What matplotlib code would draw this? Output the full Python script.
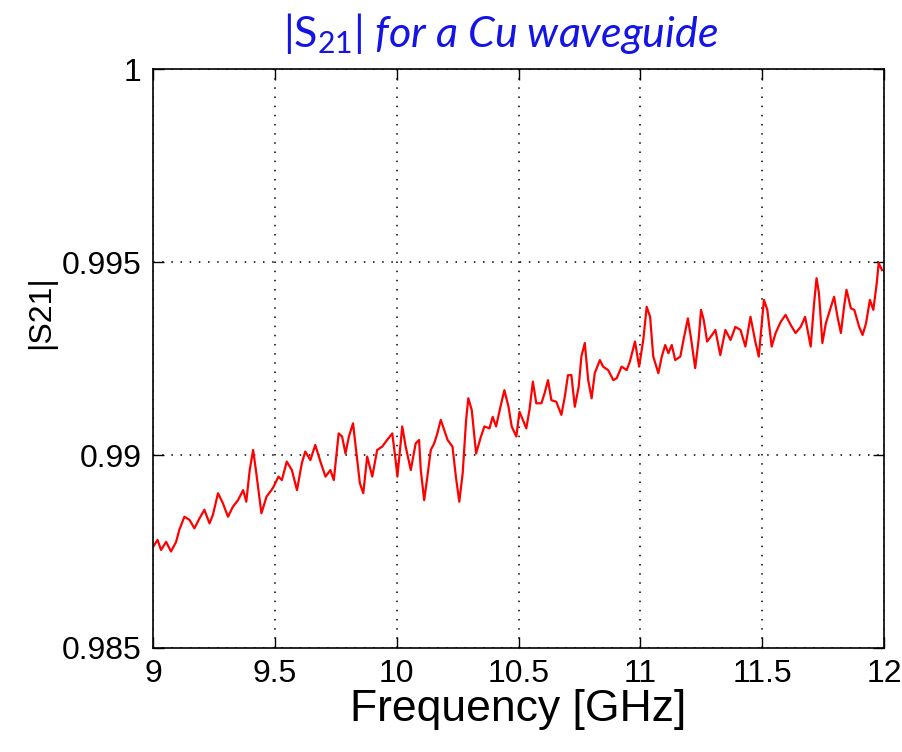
import matplotlib
matplotlib.use("Agg")
import matplotlib.pyplot as plt


# ============================================
# Data
# ============================================

freq_ghz = [
    9.000, 9.019, 9.033, 9.054, 9.074, 9.095, 9.108, 9.129, 9.150, 9.170,
    9.191, 9.211, 9.232, 9.246, 9.267, 9.287, 9.308, 9.328, 9.349, 9.370,
    9.383, 9.397, 9.411, 9.424, 9.445, 9.466, 9.486,
    9.495, 9.515, 9.529, 9.549, 9.570, 9.591, 9.611, 9.625, 9.646, 9.666,
    9.687, 9.708, 9.728, 9.742, 9.762, 9.776, 9.790, 9.804, 9.821, 9.835,
    9.849, 9.863, 9.879, 9.900, 9.920, 9.941, 9.961, 9.982, 9.996,
    10.003, 10.023, 10.037, 10.058, 10.078, 10.092, 10.099, 10.113, 10.126,
    10.140, 10.154, 10.167, 10.181, 10.195, 10.209, 10.229, 10.243, 10.257,
    10.271, 10.285, 10.294, 10.308, 10.326, 10.346, 10.360, 10.381, 10.394,
    10.408, 10.426, 10.442, 10.459, 10.472, 10.491,
    10.504, 10.518, 10.532, 10.545, 10.559, 10.573, 10.594, 10.607, 10.621,
    10.635, 10.655, 10.676, 10.690, 10.703, 10.717, 10.731, 10.747, 10.758,
    10.772, 10.786, 10.800, 10.813, 10.834, 10.847, 10.868, 10.889, 10.903,
    10.923, 10.944, 10.957, 10.978, 10.995,
    11.012, 11.026, 11.040, 11.053, 11.074, 11.088, 11.102, 11.115, 11.129,
    11.143, 11.164, 11.177, 11.195, 11.209, 11.225, 11.239, 11.249, 11.260,
    11.274, 11.294, 11.308, 11.328, 11.349, 11.370, 11.390, 11.411, 11.431,
    11.452, 11.473,
    11.486, 11.507, 11.521, 11.539, 11.555, 11.576, 11.596, 11.617, 11.637,
    11.658, 11.676, 11.686, 11.699, 11.713, 11.723, 11.733, 11.747, 11.761,
    11.782, 11.795, 11.809, 11.823, 11.836, 11.846, 11.864, 11.878, 11.898,
    11.912, 11.926, 11.942, 11.956, 11.970, 11.978, 11.992,
]

s21_mag = [
    0.98762, 0.98780, 0.98754, 0.98775, 0.98750, 0.98775, 0.98806, 0.98840, 0.98832, 0.98810,
    0.98836, 0.98858, 0.98823, 0.98845, 0.98901, 0.98875, 0.98840, 0.98866, 0.98883, 0.98909,
    0.98879, 0.98961, 0.99013, 0.98953, 0.98849, 0.98892, 0.98909,
    0.98918, 0.98944, 0.98935, 0.98983, 0.98961, 0.98909, 0.98979, 0.99009, 0.98987, 0.99026,
    0.98983, 0.98944, 0.98961, 0.98935, 0.99056, 0.99048, 0.99004, 0.99048, 0.99082, 0.99004,
    0.98927, 0.98901, 0.98996, 0.98944, 0.99013, 0.99022, 0.99039, 0.99056, 0.98985,
    0.98944, 0.99074, 0.99022, 0.98961, 0.99030, 0.99039, 0.98961, 0.98883, 0.98944,
    0.99013, 0.99030, 0.99056, 0.99091, 0.99065, 0.99039, 0.99022, 0.98944, 0.98879,
    0.98953, 0.99091, 0.99147, 0.99117, 0.99004, 0.99048, 0.99074, 0.99069, 0.99099,
    0.99074, 0.99125, 0.99168, 0.99125, 0.99074, 0.99048,
    0.99112, 0.99091, 0.99069, 0.99117, 0.99190, 0.99134, 0.99134, 0.99160, 0.99194,
    0.99142, 0.99138, 0.99104, 0.99151, 0.99207, 0.99207, 0.99125, 0.99177, 0.99255,
    0.99290, 0.99194, 0.99147, 0.99212, 0.99246, 0.99229, 0.99220, 0.99194, 0.99199,
    0.99229, 0.99220, 0.99242, 0.99294, 0.99229,
    0.99298, 0.99384, 0.99358, 0.99255, 0.99212, 0.99255, 0.99285, 0.99264, 0.99285,
    0.99246, 0.99255, 0.99298, 0.99354, 0.99298, 0.99225, 0.99298, 0.99376, 0.99350,
    0.99294, 0.99311, 0.99324, 0.99259, 0.99324, 0.99298, 0.99332, 0.99324, 0.99281,
    0.99358, 0.99290,
    0.99255, 0.99402, 0.99376, 0.99281, 0.99316, 0.99345, 0.99363, 0.99337, 0.99316,
    0.99332, 0.99358, 0.99324, 0.99281, 0.99393, 0.99458, 0.99419, 0.99290, 0.99341,
    0.99384, 0.99410, 0.99358, 0.99316, 0.99384, 0.99428, 0.99380, 0.99376, 0.99332,
    0.99311, 0.99341, 0.99402, 0.99376, 0.99445, 0.99497, 0.99479,
]

x_ticks = [9, 9.5, 10, 10.5, 11, 11.5, 12]
x_tick_labels = ["9", "9.5", "10", "10.5", "11", "11.5", "12"]
y_ticks = [0.985, 0.99, 0.995, 1.0]
y_tick_labels = ["0.985", "0.99", "0.995", "1"]


# ============================================
# Plot
# ============================================

plt.rcParams["mathtext.fontset"] = "custom"
plt.rcParams["mathtext.rm"] = "Lato"
plt.rcParams["mathtext.it"] = "Lato:italic"

fig = plt.figure(figsize=(9.03, 7.52), dpi=100)
ax = fig.add_axes([0.1694, 0.1383, 0.8096, 0.7699])

ax.plot(freq_ghz, s21_mag, color="#ff0000", linewidth=1.6)

ax.set_xlim(9, 12)
ax.set_ylim(0.985, 1.0)

ax.set_xticks(x_ticks)
ax.set_xticklabels(x_tick_labels)
ax.set_yticks(y_ticks)
ax.set_yticklabels(y_tick_labels)

ax.tick_params(direction="in", length=8, width=1, top=True, right=True,
               labelsize=23, pad=8)
for lab in ax.get_xticklabels() + ax.get_yticklabels():
    lab.set_family("Liberation Sans")

ax.grid(True, color="black", linestyle=(0, (1, 5)), linewidth=1.1)

for spine in ax.spines.values():
    spine.set_linewidth(1.2)

ax.set_xlabel("Frequency [GHz]", fontsize=32, family="Liberation Sans",
              labelpad=0)
ax.set_ylabel("|S21|", fontsize=23, family="Liberation Sans")
ax.yaxis.set_label_coords(-0.132, 0.58)

fig.text(0.554, 0.955, r"$\mathrm{|S_{21}|}$ for a Cu waveguide",
         ha="center", va="center", fontsize=31, color="#1414e6",
         family="Lato", style="italic")

plt.savefig("out.png", dpi=100)
plt.close()
